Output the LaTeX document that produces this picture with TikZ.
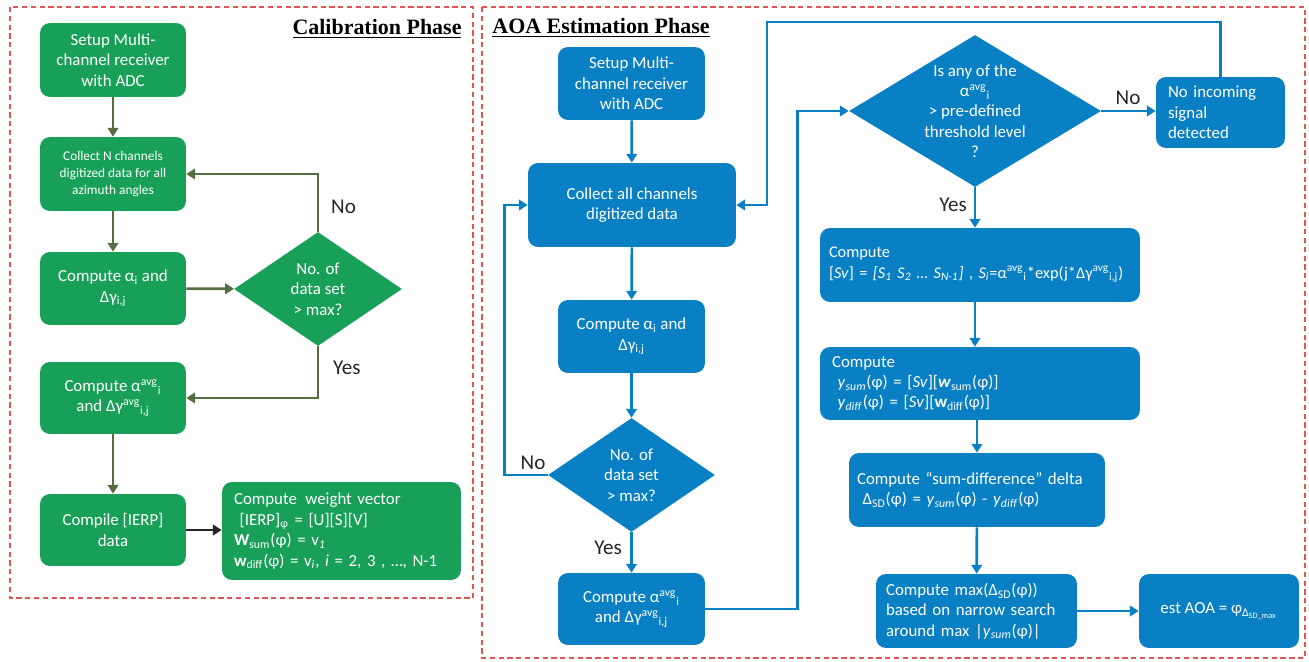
\documentclass[tikz,border=0pt]{standalone}
\usepackage{fontspec}
\setmainfont{Carlito}
\newfontfamily\titlefont{Liberation Serif}
\usetikzlibrary{shapes.geometric,arrows.meta}

\definecolor{calgreen}{RGB}{24,160,88}
\definecolor{calline}{RGB}{84,110,64}
\definecolor{aoablue}{RGB}{9,128,196}
\definecolor{framered}{RGB}{226,84,84}

\tikzset{
  phase/.style={draw=framered, dash pattern=on 3pt off 2pt, line width=0.6pt},
  title/.style={text=black, font=\titlefont\bfseries\fontsize{12.5}{15}\selectfont},
  boxg/.style={rectangle, rounded corners=0.2cm, fill=calgreen, text=white, align=center,
    inner sep=2pt, font=\fontsize{9.6}{11.6}\selectfont},
  boxb/.style={boxg, fill=aoablue},
  decg/.style={diamond, aspect=1.47, inner sep=0pt, fill=calgreen, text=white, align=center,
    font=\fontsize{9.6}{11.6}\selectfont},
  decb/.style={decg, fill=aoablue},
  lineg/.style={draw=calline, line width=1.5pt, -{Triangle[length=5pt,width=6pt]}},
  lineb/.style={draw=aoablue, line width=1.5pt, -{Triangle[length=5pt,width=6pt]}},
  lbl/.style={text=black!85, font=\fontsize{12}{14}\selectfont},
}

\begin{document}
\begin{tikzpicture}[x=0.02cm,y=-0.02cm]
\useasboundingbox (0,0) rectangle (1309,662);
% frames
\draw[phase] (10,7) rectangle (473,598);
\draw[phase] (482,7) rectangle (1305,658);
\node[title] (caltitle) at (377,29) {\underline{Calibration Phase}};
\node[title] (aoatitle) at (601,28) {\underline{AOA Estimation Phase}};

% calibration phase
\node[boxg, minimum width=2.92cm, minimum height=1.48cm] (lsetup) at (113,60) {Setup Multi-\\channel receiver\\with ADC};
\node[boxg, minimum width=2.92cm, minimum height=1.48cm, font=\fontsize{7.6}{9.5}\selectfont] (lcollect) at (113,174) {Collect N channels\\digitized data for all\\azimuth angles};
\node[boxg, minimum width=2.92cm, minimum height=1.46cm] (lcomp) at (113,288.5) {Compute α\textsubscript{i} and\\Δγ\textsubscript{i,j}};
\node[decg, minimum width=3.36cm, minimum height=2.28cm] (ldec) at (318,289) {No. of\\data set\\> max?};
\node[boxg, minimum width=2.92cm, minimum height=1.44cm] (lavg) at (113,398) {Compute α\textsuperscript{avg}\textsubscript{i}\\and Δγ\textsuperscript{avg}\textsubscript{i,j}};
\node[boxg, minimum width=2.92cm, minimum height=1.44cm] (lcompile) at (113,530) {Compile [IERP]\\data};
\node[boxg, align=left, text width=4.3cm, inner xsep=0.24cm, minimum height=1.96cm] (lweight) at (341.5,531) {Compute\,\ weight vector\\\ [IERP]\textsubscript{φ} = [U][S][V]\\\textbf{W}\textsubscript{sum}(φ) = v\textsubscript{\textit{1}}\\\textbf{w}\textsubscript{diff}(φ) = v\textsubscript{\textit{i}}, \textit{i} = 2, 3 , …, N-1};

\draw[lineg] (lsetup) -- (lcollect);
\draw[lineg] (lcollect) -- (lcomp);
\draw[lineg] (lcomp) -- (ldec);
\draw[lineg] (ldec.north) |- (lcollect.east);
\draw[lineg] (ldec.south) |- (lavg.east);
\draw[lineg] (lavg) -- (lcompile);
\draw[lineg, draw=black!85] (lcompile.east) -- (lcompile.east -| lweight.west);
\node[lbl, anchor=west] (lno) at (325,207) {No};
\node[lbl, anchor=west] (lyes) at (327,368) {Yes};

% AOA estimation phase
\node[boxb, minimum width=2.94cm, minimum height=1.46cm] (rsetup) at (631.5,83.5) {Setup Multi-\\channel receiver\\with ADC};
\node[boxb, minimum width=4.16cm, minimum height=1.68cm] (rcollect) at (632,205) {Collect all channels\\digitized data};
\node[boxb, minimum width=2.94cm, minimum height=1.46cm] (rcomp) at (631.5,336.5) {Compute α\textsubscript{i} and\\Δγ\textsubscript{i,j}};
\node[decb, minimum width=3.34cm, minimum height=2.28cm] (rdec) at (631.5,475) {No. of\\data set\\> max?};
\node[boxb, minimum width=2.94cm, minimum height=1.44cm] (ravg) at (631.5,609) {Compute α\textsuperscript{avg}\textsubscript{i}\\and Δγ\textsuperscript{avg}\textsubscript{i,j}};
\node[decb, aspect=1.66, inner sep=-8pt, minimum width=5.04cm, minimum height=3.04cm] (rthr) at (975,111) {Is any of the\\α\textsuperscript{avg}\textsubscript{i}\\> pre-defined\\threshold level\\?};
\node[boxb, align=left, text width=2.1cm, inner xsep=0.24cm, minimum height=1.42cm] (rnone) at (1220.5,112.5) {No incoming\\signal\\detected};
\node[boxb, align=left, text width=6.04cm, inner xsep=0.18cm, minimum height=1.48cm, font=\fontsize{9.3}{11.6}\selectfont] (rsv) at (980,265) {Compute\\\mbox{[\textit{Sv}] = \textit{[S\textsubscript{1} S\textsubscript{2} … S\textsubscript{N-1}]} , \textit{S\textsubscript{i}}=α\textsuperscript{avg}\textsubscript{i}*exp(j*Δγ\textsuperscript{avg}\textsubscript{i,j})}};
\node[boxb, align=left, text width=5.92cm, inner xsep=0.24cm, minimum height=1.46cm] (ry) at (980,383.5) {Compute\\\ \textit{y}\textsubscript{\textit{sum}}(φ) = [\textit{Sv}][\textbf{\textit{w}}\textsubscript{sum}(φ)]\\\ \textit{y}\textsubscript{\textit{diff}}(φ) = [\textit{Sv}][\textbf{w}\textsubscript{diff}(φ)]};
\node[boxb, align=left, text width=4.8cm, inner xsep=0.16cm, minimum height=1.48cm] (rsd) at (977,490) {Compute “sum-difference” delta\\\ Δ\textsubscript{SD}(φ) = \textit{y}\textsubscript{\textit{sum}}(φ) - \textit{y}\textsubscript{\textit{diff}}(φ)};
\node[boxb, align=left, text width=3.62cm, inner xsep=0.2cm, minimum height=1.48cm] (rmax) at (976.5,611) {Compute max(Δ\textsubscript{SD}(φ))\\based on narrow search\\around max |\textit{y}\textsubscript{\textit{sum}}(φ)|};
\node[boxb, minimum width=3.2cm, minimum height=1.48cm] (rest) at (1219,611) {est AOA = φ\textsubscript{Δ\textsubscript{SD\_max}}};
\coordinate (rtop) at (767,22);

\draw[lineb] (rsetup) -- (rcollect);
\draw[lineb] (rcollect) -- (rcomp);
\draw[lineb] (rcomp) -- (rdec);
\draw[lineb] (rdec) -- (ravg);
\draw[lineb] (rdec.west) -- ++(-43,0) |- (rcollect.west);
\draw[lineb] (ravg.east) -- ++(92,0) |- (rthr.west);
\draw[lineb] (rthr.east) -- (rthr.east -| rnone.west);
\draw[lineb] (rnone.north) |- (rtop) |- (rcollect.east);
\draw[lineb] (rthr.south) -- (rthr.south |- rsv.north);
\draw[lineb] (rsv.south -| rthr.south) -- (ry.north -| rthr.south);
\draw[lineb] (ry.south -| rsd.north) -- (rsd.north);
\draw[lineb] (rsd) -- (rmax);
\draw[lineb] (rmax) -- (rest);
\node[lbl] (rno) at (1128,98) {No};
\node[lbl] (ryes) at (953,205) {Yes};
\node[lbl] (rdno) at (533,463) {No};
\node[lbl] (rdyes) at (608,548) {Yes};

\end{tikzpicture}
\end{document}
